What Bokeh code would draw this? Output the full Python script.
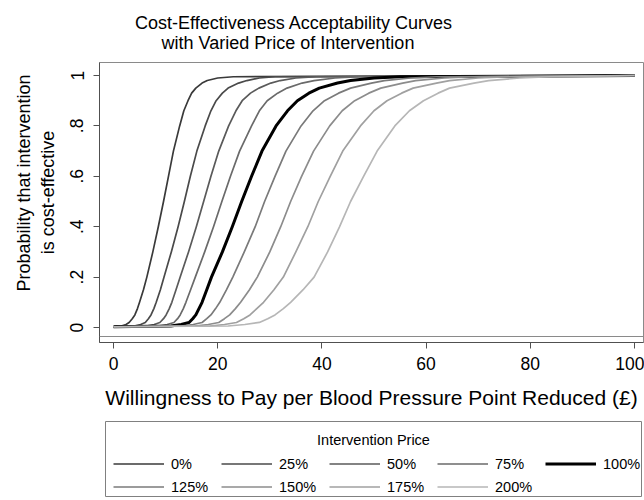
import math
from bokeh.plotting import figure
from bokeh.models import (Range1d, FixedTicker, Label, Legend, LegendItem,
                          ColumnDataSource, Span)
from bokeh.core.properties import value
from bokeh.layouts import column, row
from bokeh.embed import file_html
from bokeh.resources import INLINE

# ---------------- data ----------------
PRICE_LABELS = ["0%", "25%", "50%", "75%", "100%", "125%", "150%", "175%", "200%"]

# probability levels at which each curve was read
PROB = [0.003, 0.006, 0.012, 0.02, 0.035, 0.05, 0.075, 0.1, 0.15, 0.2, 0.3, 0.4,
        0.5, 0.6, 0.7, 0.8, 0.86, 0.9, 0.93, 0.95, 0.97, 0.98, 0.99, 0.995, 1.0]

# willingness-to-pay value (GBP) at which each curve reaches the levels above
WTP_0 = [0, 1.5, 2.4, 3.0, 3.6, 4.1, 4.6, 5.0, 5.75, 6.4, 7.55, 8.6, 9.6, 10.55,
         11.5, 12.7, 13.5, 14.3, 15.0, 15.8, 17.0, 18.0, 20.0, 23.0, 100]
WTP_25 = [0, 4.0, 5.2, 6.1, 6.7, 7.2, 7.75, 8.2, 9.0, 9.7, 11.1, 12.4, 13.6, 14.75,
          16.0, 17.6, 18.7, 19.7, 20.9, 22.0, 24.0, 25.6, 28.0, 31.0, 100]
WTP_50 = [0, 6.3, 7.8, 8.9, 9.6, 10.1, 10.7, 11.2, 12.0, 12.8, 14.4, 15.9, 17.3, 18.7,
          20.2, 22.1, 23.5, 24.7, 26.3, 27.9, 30.2, 32.0, 35.0, 39.0, 100]
WTP_75 = [0, 8.6, 10.3, 11.6, 12.3, 12.8, 13.4, 13.9, 14.8, 15.7, 17.5, 19.2, 20.8,
          22.45, 24.2, 26.5, 28.0, 29.5, 31.5, 33.3, 36.2, 38.5, 42.5, 47.0, 100]
WTP_100 = [0, 11.0, 13.0, 14.5, 15.2, 15.8, 16.4, 17.0, 17.9, 18.8, 20.9, 22.8, 24.6,
           26.5, 28.5, 31.2, 33.4, 35.3, 37.5, 39.5, 43.0, 45.5, 50.0, 55.0, 100]
WTP_125 = [0, 13.0, 15.3, 17.0, 17.9, 18.7, 19.6, 20.4, 21.7, 22.9, 25.1, 27.2, 29.0,
           31.0, 33.1, 36.0, 38.3, 40.5, 43.2, 45.5, 49.5, 52.0, 57.0, 62.0, 100]
WTP_150 = [0, 15.6, 18.2, 20.2, 21.3, 22.3, 23.4, 24.4, 26.1, 27.6, 30.0, 32.1, 34.0,
           36.1, 38.4, 41.5, 43.9, 46.3, 49.0, 51.3, 55.5, 58.0, 63.5, 69.0, 100]
WTP_175 = [0, 18.5, 21.3, 23.6, 25.0, 26.2, 27.5, 28.8, 30.8, 32.6, 35.0, 37.3, 39.3,
           41.6, 44.0, 47.4, 50.0, 52.5, 55.3, 57.5, 62.0, 64.5, 70.0, 76.0, 100]
WTP_200 = [0, 22.0, 25.2, 28.0, 29.6, 31.0, 32.6, 34.0, 36.4, 38.5, 41.1, 43.4, 45.5,
           48.0, 50.6, 54.0, 56.8, 59.5, 62.3, 64.5, 69.2, 72.0, 78.0, 84.0, 100]

SERIES = [WTP_0, WTP_25, WTP_50, WTP_75, WTP_100, WTP_125, WTP_150, WTP_175, WTP_200]

X_TICKS = [0, 20, 40, 60, 80, 100]
Y_TICKS = [0, 0.2, 0.4, 0.6, 0.8, 1]
Y_TICK_LABELS = ["0", ".2", ".4", ".6", ".8", "1"]

TITLE_LINES = ["Cost-Effectiveness  Acceptability Curves", "with Varied Price of  Intervention"]
YTITLE_LINES = ["Probability that intervention", "is cost-effective"]
XTITLE = "Willingness to Pay per Blood Pressure Point Reduced (£)"
LEGEND_TITLE = "Intervention Price"

# ---------------- styles ----------------
COLORS = ["#3a3a3a", "#4a4a4a", "#5a5a5a", "#6a6a6a", "#000000",
          "#7a7a7a", "#8c8c8c", "#a0a0a0", "#b6b6b6"]
WIDTHS = [1.7, 1.7, 1.7, 1.7, 3.0, 1.7, 1.7, 1.7, 1.7]
FONT = "Liberation Sans"
AXIS_COLOR = "#505050"
BOX_COLOR = "#8a8a8a"


def blank(width, height):
    """A figure whose frame is the whole canvas, used only to hold text."""
    f = figure(width=width, height=height, min_border=0,
               x_range=Range1d(0, width), y_range=Range1d(0, height),
               x_axis_type=None, y_axis_type=None, frame_align=False,
               output_backend="svg", toolbar_location=None,
               background_fill_color="white", border_fill_color="white")
    f.outline_line_color = None
    f.grid.visible = False
    return f


# ---------------- title strip (canvas px, y measured upward) ----------------
tf = blank(644, 61)
tf.text(x=[296, 290], y=[39, 19], text=TITLE_LINES, text_font=value(FONT),
        text_font_size=value("18px"), text_color="black",
        text_align="center", text_baseline="middle")

# ---------------- y-title strip ----------------
yf = blank(66, 358)
yf.text(x=[23, 47], y=[236.5, 227], text=YTITLE_LINES, angle=math.pi / 2,
        text_font=value(FONT), text_font_size=value("18px"), text_color="black",
        text_align="center", text_baseline="middle")

# ---------------- main plot ----------------
p = figure(frame_width=544, frame_height=280,
           min_border_left=33, min_border_right=1, min_border_top=1, min_border_bottom=77,
           x_range=Range1d(-2.687, 101.727), y_range=Range1d(-0.0595, 1.0516),
           frame_align=False,
           output_backend="svg", toolbar_location=None,
           background_fill_color="white", border_fill_color="white")
p.outline_line_color = BOX_COLOR
p.outline_line_width = 1
p.grid.visible = False

for wtp, col, w in zip(SERIES, COLORS, WIDTHS):
    src = ColumnDataSource(dict(x=wtp, y=PROB))
    p.line("x", "y", source=src, line_color=col, line_width=w, line_join="round")

# bottom edge of the plot region box (the x axis sits a little below it)
p.add_layout(Span(location=-0.0357, dimension="width", line_color=BOX_COLOR,
                  line_width=1))

xa = p.xaxis[0]
xa.ticker = FixedTicker(ticks=X_TICKS)
xa.axis_label = XTITLE
xa.axis_label_text_font = FONT
xa.axis_label_text_font_size = "21px"
xa.axis_label_text_font_style = "normal"
xa.axis_label_text_color = "black"
xa.axis_label_standoff = 13
xa.major_label_text_font = FONT
xa.major_label_text_font_size = "17.5px"
xa.major_label_text_color = "black"
xa.major_label_standoff = 8

ya = p.yaxis[0]
ya.ticker = FixedTicker(ticks=Y_TICKS)
ya.major_label_overrides = {t: l for t, l in zip(Y_TICKS, Y_TICK_LABELS)}
ya.major_label_orientation = "vertical"
ya.major_label_text_font = FONT
ya.major_label_text_font_size = "17.5px"
ya.major_label_text_color = "black"
ya.major_label_standoff = 10

for ax in (xa, ya):
    ax.axis_line_color = AXIS_COLOR
    ax.major_tick_line_color = AXIS_COLOR
    ax.major_tick_in = 0
    ax.major_tick_out = 6
    ax.minor_tick_line_color = None

# ---------------- legend panel ----------------
lg = figure(frame_width=536, frame_height=75,
            min_border_left=105, min_border_right=3, min_border_top=2, min_border_bottom=2,
            x_range=Range1d(0, 1), y_range=Range1d(0, 1),
            x_axis_type=None, y_axis_type=None, frame_align=False,
            output_backend="svg", toolbar_location=None,
            background_fill_color="white", border_fill_color="white")
lg.grid.visible = False
lg.outline_line_color = "#808080"
lg.outline_line_width = 1

items = []
for lab, col, w in zip(PRICE_LABELS, COLORS, WIDTHS):
    # proxy renderer kept outside the visible range; it only feeds the legend
    r = lg.line(x=[-2, -1], y=[-2, -2], line_color=col, line_width=w)
    items.append(LegendItem(label=lab, renderers=[r]))

legend = Legend(items=items, orientation="horizontal", ncols=5,
                location=(8, -1), margin=0, padding=0, spacing=2,
                glyph_width=51, glyph_height=21, label_height=21, label_width=48,
                label_standoff=7, label_text_font=FONT, label_text_font_size="14.5px",
                label_text_color="black", border_line_color=None,
                background_fill_alpha=0)
lg.add_layout(legend)

lg.add_layout(Label(x=0.5, y=0.747, text=LEGEND_TITLE, text_font=FONT,
                    text_font_size="14.5px", text_color="black",
                    text_align="center", text_baseline="middle"))

layout = column(tf, row(yf, p, spacing=0), lg, spacing=0)

with open("out.html", "w") as f:
    f.write(file_html(layout, INLINE))
